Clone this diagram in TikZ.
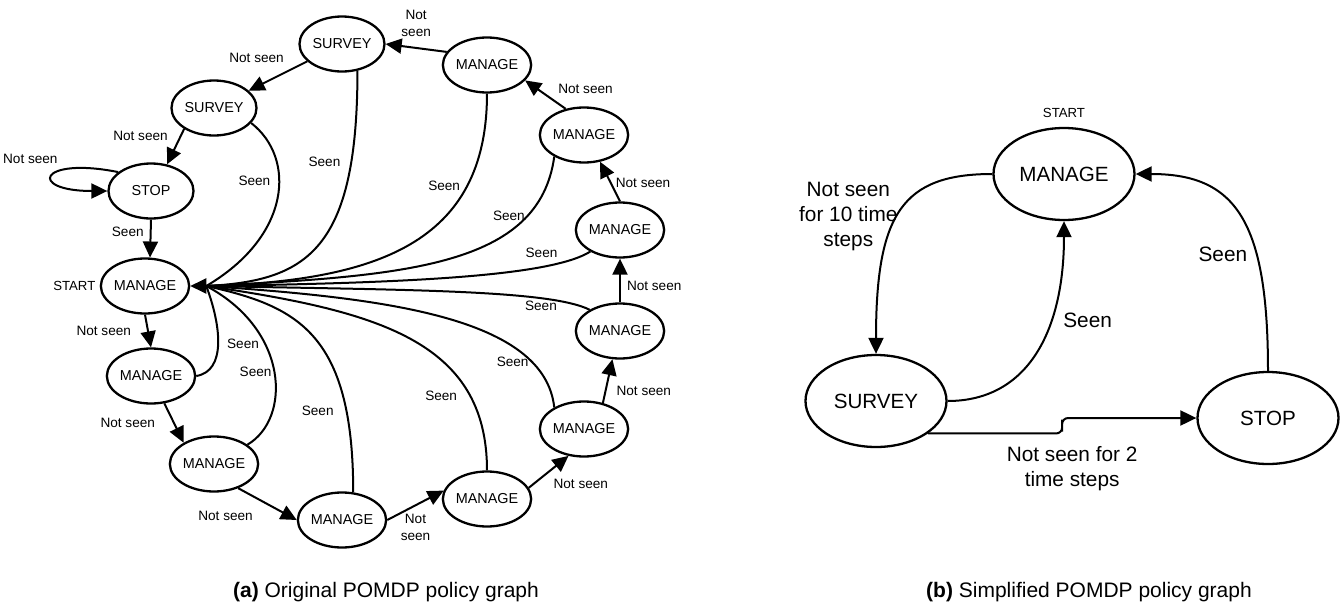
\documentclass[tikz,border=0pt]{standalone}
\usepackage{fontspec}
\setmainfont{Liberation Sans}
\usetikzlibrary{shapes.geometric,arrows.meta,positioning,calc}

\tikzset{
  state/.style={draw, ellipse, line width=1.15pt, inner sep=0pt,
    minimum width=42.5pt, minimum height=27.5pt, font=\fontsize{7.2}{8.6}\selectfont},
  bigstate/.style={state, minimum width=70.5pt, minimum height=46pt,
    font=\fontsize{10.3}{12.4}\selectfont},
  lbl/.style={inner sep=1pt, align=center, font=\fontsize{6.8}{8.5}\selectfont},
  biglbl/.style={inner sep=1pt, align=center, font=\fontsize{10.4}{12.5}\selectfont},
  startlbl/.style={inner sep=1pt, font=\fontsize{6.6}{8}\selectfont},
  captext/.style={inner sep=0pt, font=\fontsize{10.5}{12.6}\selectfont},
  arr/.style={-{Triangle[length=8pt,width=7.5pt]}, line width=1pt},
  seen/.style={line width=1pt},
}

\begin{document}
\begin{tikzpicture}[x=0.5pt, y=-0.5pt]
  \useasboundingbox (0,0) rectangle (1341,611);

  % (a) original policy graph
  \node[state] (s1) at (342,44) {SURVEY};
  \node[state] (s2) at (214,108) {SURVEY};
  \node[state] (st) at (151,191) {STOP};
  \node[state] (m0) at (145,286) {MANAGE};
  \node[state] (m1) at (151,376) {MANAGE};
  \node[state] (m2) at (214,464) {MANAGE};
  \node[state] (m3) at (342,520) {MANAGE};
  \node[state] (m4) at (487,499) {MANAGE};
  \node[state] (m5) at (584,429) {MANAGE};
  \node[state] (m6) at (620,331) {MANAGE};
  \node[state] (m7) at (620,230) {MANAGE};
  \node[state] (m8) at (584,135) {MANAGE};
  \node[state] (m9) at (487,65) {MANAGE};
  \node[startlbl, left=1pt of m0] (start1) {START};
  \coordinate (hub) at ([xshift=8pt]m0.east);

  \begin{scope}[arr]
    \draw (s1) to node[lbl, pos=.35, above left=3pt and 0pt] (n1) {Not seen} (s2);
    \draw (s2.215) to node[lbl, pos=.2, left=5pt] (n2) {Not seen} (st.59);
    \draw (st.150) .. controls +(-80,-16) and +(-80,0) .. node[lbl, pos=.35, above left=0pt, yshift=2pt] (n3) {Not seen} (st.west);
    \draw (st.south) to node[lbl, pos=.33, left=2pt] (y1) {Seen} (m0.80);
    \draw (m0.south) to node[lbl, pos=.5, left=7pt] (n4) {Not seen} (m1.north);
    \draw (m1.-64) to node[lbl, pos=.5, left=8pt] (n5) {Not seen} (m2.145);
    \draw (m2.-45) to node[lbl, pos=.3, below left=5pt and 0pt] (n6) {Not seen} (m3.west);
    \draw (m3.east) to node[lbl, pos=.5, below=3pt] (n7) {Not\\seen} (m4.169);
    \draw (m4.15) to node[lbl, pos=.55, below right=3pt and 0pt] (n8) {Not seen} (m5.240);
    \draw (m5.54) to node[lbl, pos=.28, right=4pt] (n9) {Not seen} (m6.255);
    \draw (m6.north) to node[lbl, pos=.38, right=2pt] (n10) {Not seen} (m7.south);
    \draw (m7.north) to node[lbl, pos=.46, right=1pt] (n11) {Not seen} (m8.-59);
    \draw (m8.125) to node[lbl, pos=.7, right=9pt] (n12) {Not seen} (m9.-22);
    \draw (m9.162) to node[lbl, pos=.5, above=4pt] (n13) {Not\\seen} (s1.east);
  \end{scope}

  \begin{scope}[seen]
    \draw (s2.-22) .. controls +(45,35) and +(85,-50) .. node[lbl, pos=.4, left=3pt] (y2) {Seen} (hub);
    \draw (s1.-60) .. controls +(0,180) and +(100,-5) .. node[lbl, pos=.2, left=4pt] (y3) {Seen} (hub);
    \draw (m9.south) .. controls +(0,150) and +(170,-5) .. node[lbl, pos=.25, left=2pt] (y4) {Seen} (hub);
    \draw (m8.216) .. controls +(-15,110) and +(200,-10) .. node[lbl, pos=.22, left=0pt] (y5) {Seen} (hub);
    \draw (m7.216) .. controls +(-40,25) and +(200,-3) .. node[lbl, pos=.25, above=3pt] (y6) {Seen} (hub);
    \draw (m6.145) .. controls +(-40,-20) and +(200,4) .. node[lbl, pos=.25, below=0pt] (y7) {Seen} (hub);
    \draw (m5.144) .. controls +(-10,-90) and +(180,12) .. node[lbl, pos=.2, left=0pt] (y8) {Seen} (hub);
    \draw (m4.north) .. controls +(0,-130) and +(170,25) .. node[lbl, pos=.23, left=5pt] (y9) {Seen} (hub);
    \draw (m3.68) .. controls +(0,-160) and +(90,20) .. node[lbl, pos=.2, left=5pt] (y10) {Seen} (hub);
    \draw (m2.30) .. controls +(44,-26) and +(83,44) .. node[lbl, pos=.5, left=0pt] (y11) {Seen} (hub);
    \draw (m1.east) .. controls +(30,-5) and +(15,40) .. node[lbl, pos=.5, right=3pt] (y12) {Seen} (hub);
  \end{scope}
  \draw[arr] (hub) -- (m0.east);

  % (b) simplified policy graph
  \node[bigstate] (rm) at (1064,174) {MANAGE};
  \node[bigstate] (rs) at (876,401) {SURVEY};
  \node[bigstate] (rst) at (1268,418) {STOP};
  \node[startlbl, above=3.2pt of rm] (start2) {START};

  \begin{scope}[arr]
    \draw (rm.west) .. controls +(-90,0) and +(0,-140) .. node[biglbl, pos=.5, anchor=east, yshift=-2.5pt] (b1) {Not seen\\for 10 time\\steps} (rs.north);
    \draw (rs.east) .. controls +(80,0) and +(0,110) .. node[biglbl, pos=.65, right=5pt] (b2) {Seen} (rm.south);
    \draw (rst.north) .. controls +(0,-150) and +(100,0) .. node[biglbl, pos=.33, left=3pt] (b3) {Seen} (rm.east);
    \draw[rounded corners=3pt] (rs.-32) -| ($(rs.-32)!.5!(rst.west)$)
      node[biglbl, below=9pt, xshift=5pt] (b4) {Not seen for 2\\time steps} |- (rst.west);
  \end{scope}

  \node[captext] (capa) at (386,592) {\textbf{(a)} Original POMDP policy graph};
  \node[captext] (capb) at (1089,592) {\textbf{(b)} Simplified POMDP policy graph};
\end{tikzpicture}
\end{document}
